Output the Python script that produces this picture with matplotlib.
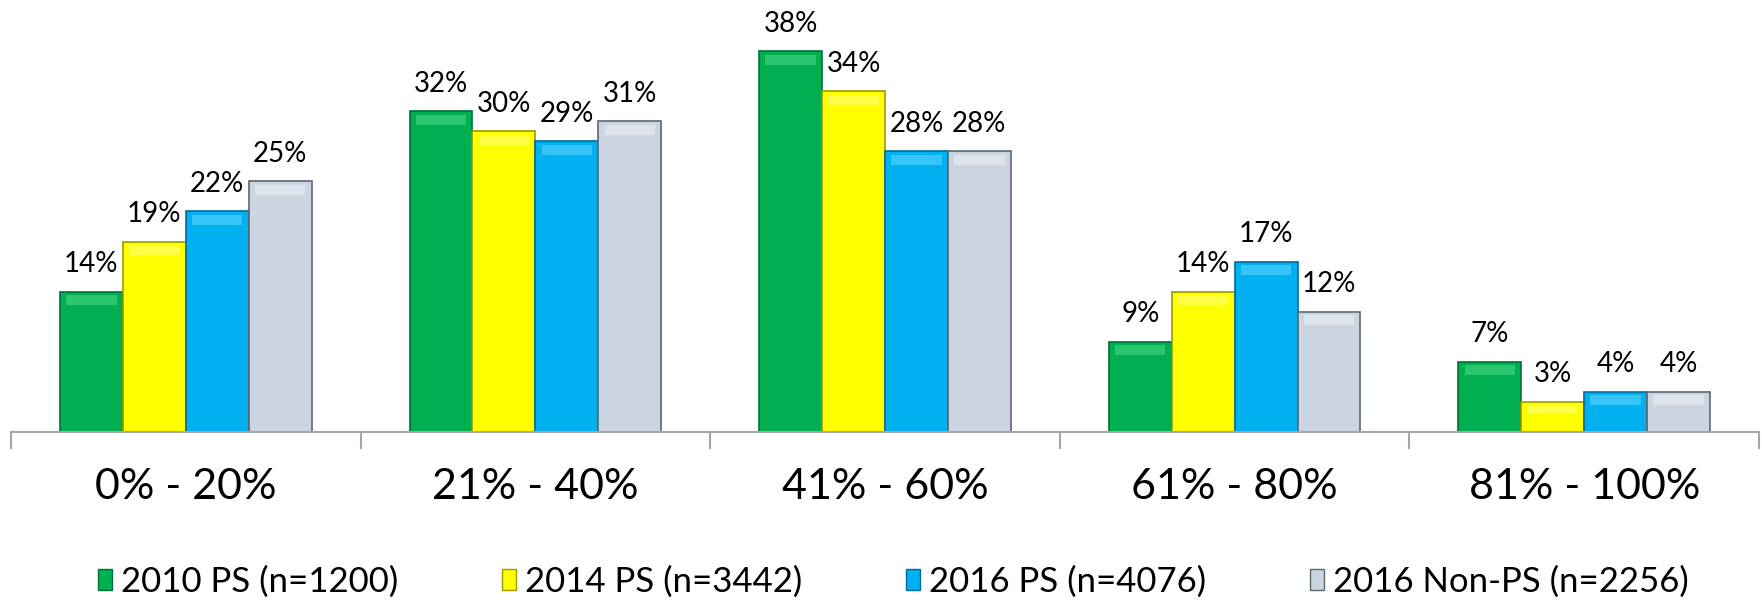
import matplotlib.pyplot as plt
from matplotlib.patches import Patch
import numpy as np

# ===================== style =====================
plt.rcParams['font.family'] = ['Lato', 'DejaVu Sans']

# ===================== data =====================
categories = ['0% - 20%', '21% - 40%', '41% - 60%', '61% - 80%', '81% - 100%']
series_labels = ['2010 PS (n=1200)', '2014 PS (n=3442)', '2016 PS (n=4076)', '2016 Non-PS (n=2256)']
ps_2010 = [14, 32, 38, 9, 7]
ps_2014 = [19, 30, 34, 14, 3]
ps_2016 = [22, 29, 28, 17, 4]
nonps_2016 = [25, 31, 28, 12, 4]

series_values = [ps_2010, ps_2014, ps_2016, nonps_2016]
colors = ['#00B050', '#FFFF00', '#00B0F0', '#CAD5E1']
edge_colors = ['#00703A', '#9A9A00', '#006C96', '#5C6670']
highlight = ['#4BD98A', '#FFFF80', '#66D6FF', '#EEF2F6']

BAR_W = 0.18

fig = plt.figure(figsize=(17.62, 6), dpi=100)
ax = fig.add_axes([11 / 1762, 1 - 432 / 600, 1748 / 1762, 432 / 600])

x = np.arange(len(categories))
for i, (vals, c, ec, hc) in enumerate(zip(series_values, colors, edge_colors, highlight)):
    xpos = x + (i - 1.5) * BAR_W
    ax.bar(xpos, vals, width=BAR_W, color=c, edgecolor=ec, linewidth=1.2, zorder=2)
    # bevel highlight near the top of each bar
    top_h = np.minimum(np.array(vals) * 0.25, 1.0)
    ax.bar(xpos, top_h, width=BAR_W * 0.8, bottom=np.array(vals) - top_h - 0.35,
           color=hc, alpha=0.55, linewidth=0, zorder=3)
    for xp, v in zip(xpos, vals):
        ax.annotate(f'{v}%', (xp, v), xytext=(0, 14), textcoords='offset points',
                    ha='center', va='baseline', fontsize=20, color='black')

ax.set_xlim(-0.5, 4.5)
ax.set_ylim(0, 43.1)

# category separators as major ticks, labels as minor ticks
ax.set_xticks(np.arange(-0.5, 5.0, 1.0))
ax.set_xticklabels([])
ax.tick_params(axis='x', which='major', length=12, width=1.5, color='#A6A6A6', direction='out')
ax.set_xticks(x, minor=True)
ax.set_xticklabels(categories, minor=True, fontsize=31)
ax.tick_params(axis='x', which='minor', length=0, pad=26)
ax.set_yticks([])

for s in ['top', 'right', 'left']:
    ax.spines[s].set_visible(False)
ax.spines['bottom'].set_color('#A6A6A6')
ax.spines['bottom'].set_linewidth(1.5)

handles = [Patch(facecolor=c, edgecolor=ec, linewidth=1.0, label=l)
           for c, ec, l in zip(colors, edge_colors, series_labels)]
fig.legend(handles=handles, loc='center', bbox_to_anchor=(0.507, 0.03), ncol=4,
           fontsize=25, frameon=False, handlelength=0.4, handleheight=0.55,
           handletextpad=0.25, columnspacing=3.0)

fig.savefig('out.png', dpi=100)
